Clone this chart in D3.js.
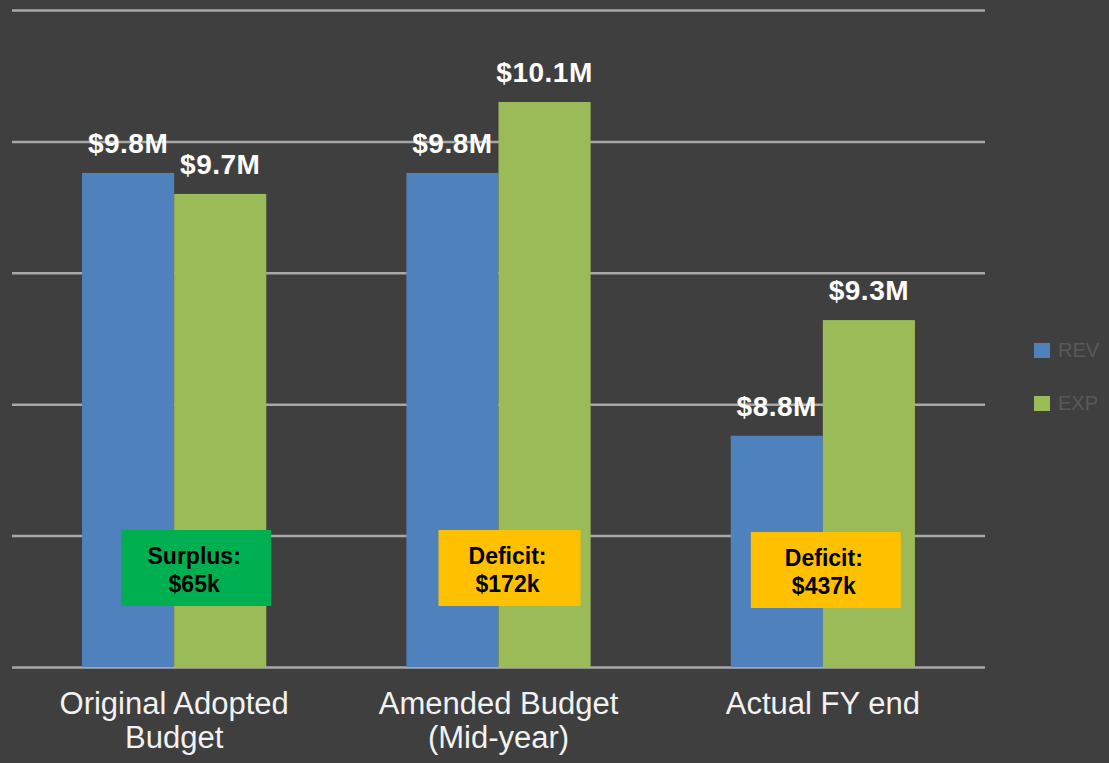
<!DOCTYPE html>
<html>
<head>
<meta charset="utf-8">
<script src="https://cdnjs.cloudflare.com/ajax/libs/d3/7.8.5/d3.min.js"></script>
<style>
  html, body { margin: 0; padding: 0; background: #3f3f3f; }
  svg { display: block; }
  text { font-family: Arial, "Liberation Sans", sans-serif; }
</style>
</head>
<body>
<div id="chart"></div>
<script>
// categories and series (values in $M)
var categories = ["Original Adopted Budget", "Amended Budget (Mid-year)", "Actual FY end"];
var catLines = [["Original Adopted", "Budget"], ["Amended Budget", "(Mid-year)"], ["Actual FY end"]];
var series = ["REV", "EXP"];
var revValues = [9.88, 9.88, 8.88];
var expValues = [9.80, 10.15, 9.32];
var revLabels = ["$9.8M", "$9.8M", "$8.8M"];
var expLabels = ["$9.7M", "$10.1M", "$9.3M"];
var noteTitles = ["Surplus:", "Deficit:", "Deficit:"];
var noteAmounts = ["$65k", "$172k", "$437k"];
var yTicks = [8, 8.5, 9, 9.5, 10, 10.5];

var W = 1109, H = 763;
var colors = { REV: "#4f81bd", EXP: "#9bbb59" };
var noteFill = ["#00b050", "#ffc000", "#ffc000"];
var noteShift = [22, 11, 3];   // boxes sit a little right of the group centre
var noteTop = [530, 530, 532];

var svg = d3.select("#chart").append("svg")
    .attr("width", W).attr("height", H);

svg.append("rect").attr("width", W).attr("height", H).attr("fill", "#3f3f3f");

// note: "top" is reserved on window, so use plot* names
var plotL = 12, plotR = 985, plotT = 10, plotB = 667;

var x0 = d3.scaleBand().domain(categories).range([plotL, plotR])
    .paddingInner(0.432).paddingOuter(0.216);
var x1 = d3.scaleBand().domain(series).range([0, x0.bandwidth()]);
var y = d3.scaleLinear().domain([8, 10.5]).range([plotB, plotT]);

// gridlines
var grid = svg.append("g").attr("transform", "translate(" + plotL + ",0)")
    .call(d3.axisLeft(y).tickValues(yTicks).tickSize(-(plotR - plotL)).tickFormat(""));
grid.select(".domain").remove();
grid.selectAll("line").attr("stroke", "#a8a8a8").attr("stroke-width", 2.5);

var rows = categories.map(function(c, i) {
  return { cat: c, vals: [
    { key: "REV", v: revValues[i], label: revLabels[i] },
    { key: "EXP", v: expValues[i], label: expLabels[i] }
  ] };
});

var groups = svg.selectAll("g.group").data(rows).enter().append("g")
    .attr("class", "group")
    .attr("transform", function(d) { return "translate(" + x0(d.cat) + ",0)"; });

groups.selectAll("rect").data(function(d) { return d.vals; }).enter().append("rect")
    .attr("x", function(d) { return x1(d.key); })
    .attr("y", function(d) { return y(d.v); })
    .attr("width", x1.bandwidth())
    .attr("height", function(d) { return plotB - y(d.v); })
    .attr("fill", function(d) { return colors[d.key]; });

groups.selectAll("text.val").data(function(d) { return d.vals; }).enter().append("text")
    .attr("class", "val")
    .attr("x", function(d) { return x1(d.key) + x1.bandwidth() / 2; })
    .attr("y", function(d) { return y(d.v) - 20; })
    .attr("text-anchor", "middle")
    .attr("fill", "#ffffff")
    .style("font-size", "28px")
    .style("font-weight", "bold")
    .style("letter-spacing", "0.5px")
    .text(function(d) { return d.label; });

// surplus / deficit boxes
categories.forEach(function(c, i) {
  var cx = x0(c) + x0.bandwidth() / 2 + noteShift[i];
  var bw = i === 1 ? 142 : 150, bh = 76;
  svg.append("rect")
      .attr("x", cx - bw / 2).attr("y", noteTop[i])
      .attr("width", bw).attr("height", bh)
      .attr("fill", noteFill[i]);
  var t = svg.append("text")
      .attr("text-anchor", "middle")
      .attr("fill", "#000")
      .style("font-size", "23px")
      .style("font-weight", "bold");
  t.append("tspan").attr("x", cx - 2).attr("y", noteTop[i] + 34).text(noteTitles[i]);
  t.append("tspan").attr("x", cx - 2).attr("y", noteTop[i] + 62).text(noteAmounts[i]);
});

// category labels
categories.forEach(function(c, i) {
  var t = svg.append("text")
      .attr("text-anchor", "middle")
      .attr("fill", "#f2f2f2")
      .style("font-size", "31px");
  catLines[i].forEach(function(line, j) {
    t.append("tspan")
        .attr("x", x0(c) + x0.bandwidth() / 2)
        .attr("y", 714 + j * 34)
        .text(line);
  });
});

// legend
var legend = svg.selectAll("g.legend").data(series).enter().append("g")
    .attr("class", "legend")
    .attr("transform", function(d, i) { return "translate(1034," + (343 + i * 53) + ")"; });
legend.append("rect").attr("width", 16).attr("height", 15)
    .attr("fill", function(d) { return colors[d]; });
legend.append("text").attr("x", 24).attr("y", 14)
    .attr("fill", "#595959")
    .style("font-size", "20px")
    .text(function(d) { return d; });
</script>
</body>
</html>
